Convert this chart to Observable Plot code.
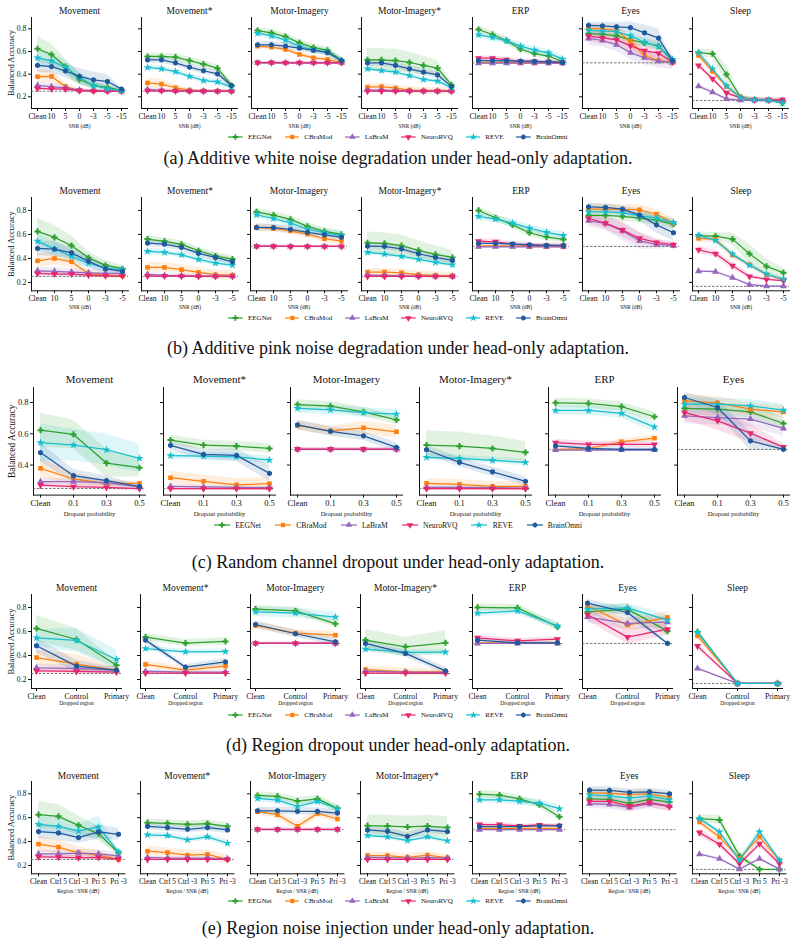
<!DOCTYPE html>
<html><head><meta charset="utf-8">
<script src="https://cdn.jsdelivr.net/npm/d3@7"></script>
<script src="https://cdn.jsdelivr.net/npm/@observablehq/plot@0.6"></script>
<style>
body{margin:0;background:#fff;}
#fig{position:relative;width:796px;height:949px;overflow:hidden;font-family:"Liberation Serif","Times New Roman",serif;color:#111;}
.panel{position:absolute;}
.legend{position:absolute;left:0;width:796px;display:flex;justify-content:center;align-items:center;}
.legend .item{display:flex;align-items:center;}
.caption{position:absolute;left:0;width:796px;text-align:center;line-height:1;}
</style></head>
<body><div id="fig"></div>
<script>
// ---------- categories / labels ----------
const models = ["EEGNet","CBraMod","LaBraM","NeuroRVQ","REVE","BrainOmni"];
const modelColors = ["#2ca02c","#ff7f0e","#9467bd","#e6266f","#17becf","#1f5a9e"];
const panels = ["Movement","Movement*","Motor-Imagery","Motor-Imagery*","ERP","Eyes","Sleep"];
const chanceLevels = [0.25,0.25,0.5,0.25,0.5,0.5,0.167];
const yTicksMain = [0.2,0.4,0.6,0.8];
const yTicksDropout = [0.4,0.6,0.8];
const xTicksWhite = ["Clean","10","5","0","-3","-5","-15"];
const xTicksPink = ["Clean","10","5","0","-3","-5"];
const xTicksDropout = ["Clean","0.1","0.3","0.5"];
const xTicksRegion = ["Clean","Control","Primary"];
const xTicksInjection = ["Clean","Ctrl 5","Ctrl -3","Pri 5","Pri -3"];

// ---------- (a) white noise: rows in model order ----------
const whiteMovement = [
 [0.624,0.573,0.467,0.353,0.30,0.283,0.256],
 [0.378,0.38,0.29,0.253,0.252,0.25,0.25],
 [0.30,0.29,0.28,0.26,0.255,0.252,0.25],
 [0.274,0.27,0.268,0.255,0.25,0.25,0.25],
 [0.543,0.517,0.46,0.37,0.30,0.27,0.255],
 [0.478,0.467,0.428,0.38,0.35,0.335,0.268]];
const whiteMovementSd = [[0.11,0.09,0.07,0.05,0.03,0.02,0.01],[0.06,0.05,0.03,0.01,0.01,0.01,0.01],[0.03,0.03,0.02,0.01,0.01,0.01,0.01],0.015,[0.07,0.07,0.06,0.05,0.04,0.03,0.01],[0.06,0.06,0.06,0.07,0.07,0.06,0.01]];
const whiteMovementStar = [
 [0.556,0.556,0.55,0.52,0.488,0.453,0.30],
 [0.323,0.312,0.28,0.26,0.253,0.25,0.25],
 [0.265,0.256,0.252,0.25,0.25,0.25,0.25],
 [0.253,0.253,0.252,0.25,0.25,0.25,0.25],
 [0.459,0.447,0.423,0.38,0.344,0.332,0.285],
 [0.526,0.526,0.50,0.462,0.43,0.403,0.30]];
const whiteMovementStarSd = [0.03,[0.04,0.04,0.03,0.01,0.01,0.01,0.01],0.015,0.01,0.025,0.03];
const whiteMI = [
 [0.785,0.765,0.732,0.676,0.635,0.61,0.52],
 [0.647,0.638,0.618,0.574,0.544,0.53,0.503],
 [0.5,0.5,0.5,0.5,0.5,0.5,0.5],
 [0.502,0.502,0.5,0.5,0.5,0.5,0.5],
 [0.76,0.738,0.70,0.644,0.615,0.594,0.52],
 [0.659,0.659,0.647,0.63,0.61,0.59,0.52]];
const whiteMISd = [0.03,0.02,0.01,0.01,0.03,0.03];
const whiteMIStar = [
 [0.526,0.526,0.52,0.503,0.477,0.453,0.306],
 [0.285,0.29,0.277,0.259,0.253,0.252,0.252],
 [0.26,0.26,0.255,0.252,0.25,0.25,0.25],
 [0.25,0.25,0.25,0.25,0.25,0.25,0.25],
 [0.447,0.432,0.418,0.388,0.353,0.338,0.28],
 [0.50,0.50,0.477,0.447,0.418,0.394,0.29]];
const whiteMIStarSd = [[0.1,0.1,0.1,0.09,0.08,0.07,0.02],0.03,0.01,0.01,0.02,0.03];
const whiteERP = [
 [0.794,0.75,0.697,0.62,0.582,0.56,0.512],
 [0.505,0.505,0.503,0.502,0.5,0.5,0.5],
 [0.497,0.497,0.497,0.497,0.497,0.497,0.497],
 [0.541,0.541,0.526,0.512,0.512,0.509,0.503],
 [0.747,0.724,0.694,0.647,0.612,0.588,0.532],
 [0.52,0.52,0.517,0.515,0.512,0.509,0.503]];
const whiteERPSd = [0.03,0.01,0.01,0.02,0.03,0.01];
const whiteEyes = [
 [0.756,0.753,0.738,0.703,0.676,0.65,0.515],
 [0.803,0.80,0.785,0.69,0.565,0.52,0.506],
 [0.715,0.697,0.66,0.59,0.544,0.515,0.503],
 [0.735,0.72,0.703,0.65,0.606,0.585,0.506],
 [0.788,0.78,0.776,0.74,0.68,0.644,0.53],
 [0.83,0.826,0.818,0.81,0.765,0.718,0.52]];
const whiteEyesSd = [0.04,[0.04,0.04,0.04,0.05,0.05,0.03,0.01],0.06,0.05,0.03,[0.03,0.03,0.04,0.05,0.07,0.08,0.02]];
const whiteSleep = [
 [0.59,0.58,0.397,0.197,0.173,0.17,0.147],
 [0.565,0.424,0.29,0.197,0.173,0.17,0.16],
 [0.294,0.24,0.182,0.17,0.173,0.17,0.168],
 [0.476,0.36,0.235,0.19,0.173,0.173,0.173],
 [0.588,0.447,0.297,0.19,0.173,0.17,0.144],
 null];
const whiteSleepSd = [[0.03,0.04,0.08,0.02,0.01,0.01,0.01],0.02,0.015,0.02,0.02,0];

// ---------- (b) pink noise ----------
const pinkMovement = [
 [0.625,0.575,0.508,0.405,0.342,0.314],
 [0.38,0.40,0.372,0.272,0.261,0.255],
 [0.297,0.292,0.286,0.28,0.275,0.275],
 [0.275,0.27,0.27,0.26,0.255,0.253],
 [0.544,0.478,0.417,0.361,0.32,0.303],
 [0.483,0.478,0.447,0.375,0.314,0.292]];
const pinkMovementSd = [[0.11,0.1,0.08,0.05,0.04,0.03],[0.06,0.05,0.05,0.02,0.01,0.01],0.03,0.02,[0.07,0.06,0.05,0.04,0.03,0.02],[0.06,0.06,0.05,0.05,0.04,0.03]];
const pinkMovementStar = [
 [0.561,0.542,0.517,0.464,0.42,0.394],
 [0.325,0.325,0.306,0.283,0.264,0.261],
 [0.267,0.258,0.255,0.253,0.252,0.252],
 [0.253,0.253,0.252,0.25,0.25,0.25],
 [0.458,0.45,0.43,0.392,0.361,0.344],
 [0.528,0.52,0.492,0.442,0.408,0.372]];
const pinkMovementStarSd = [0.03,0.04,0.015,0.01,0.025,0.03];
const pinkMI = [
 [0.789,0.761,0.725,0.667,0.625,0.60],
 [0.656,0.65,0.63,0.603,0.564,0.544],
 [0.5,0.5,0.5,0.5,0.5,0.5],
 [0.502,0.502,0.5,0.5,0.5,0.5],
 [0.764,0.733,0.694,0.644,0.614,0.592],
 [0.658,0.656,0.642,0.617,0.597,0.578]];
const pinkMISd = [0.03,0.03,0.01,0.01,0.03,0.03];
const pinkMIStar = [
 [0.53,0.525,0.506,0.467,0.433,0.408],
 [0.286,0.286,0.28,0.264,0.258,0.255],
 [0.26,0.258,0.255,0.252,0.25,0.25],
 [0.25,0.25,0.25,0.25,0.25,0.25],
 [0.45,0.436,0.417,0.392,0.367,0.347],
 [0.503,0.50,0.48,0.439,0.408,0.383]];
const pinkMIStarSd = [[0.09,0.09,0.09,0.08,0.07,0.06],0.03,0.01,0.01,0.02,0.03];
const pinkERP = [
 [0.80,0.739,0.68,0.614,0.578,0.558],
 [0.505,0.505,0.503,0.502,0.5,0.5],
 [0.497,0.497,0.497,0.497,0.497,0.497],
 [0.544,0.539,0.52,0.508,0.508,0.506],
 [0.75,0.728,0.694,0.653,0.617,0.592],
 [0.525,0.525,0.52,0.514,0.508,0.508]];
const pinkERPSd = [0.03,0.01,0.01,0.02,0.03,0.01];
const pinkEyes = [
 [0.758,0.758,0.75,0.736,0.72,0.686],
 [0.811,0.811,0.808,0.806,0.769,0.692],
 [0.714,0.692,0.63,0.547,0.517,0.506],
 [0.733,0.694,0.636,0.567,0.533,0.514],
 [0.789,0.789,0.78,0.756,0.736,0.70],
 [0.83,0.825,0.811,0.761,0.68,0.614]];
const pinkEyesSd = [0.04,0.04,[0.05,0.06,0.08,0.07,0.04,0.02],[0.04,0.05,0.06,0.05,0.03,0.02],0.03,[0.03,0.03,0.03,0.05,0.07,0.07]];
const pinkSleep = [
 [0.589,0.586,0.561,0.439,0.333,0.281],
 [0.567,0.558,0.428,0.347,0.264,0.222],
 [0.294,0.289,0.239,0.181,0.169,0.169],
 [0.472,0.439,0.339,0.25,0.225,0.214],
 [0.592,0.55,0.436,0.344,0.269,0.228],
 null];
const pinkSleepSd = [[0.03,0.03,0.05,0.08,0.06,0.04],[0.03,0.03,0.03,0.02,0.02,0.01],0.01,[0.03,0.03,0.03,0.02,0.01,0.01],0.02,0];

// ---------- (c) channel dropout ----------
const dropMovement = [
 [0.623,0.596,0.413,0.383],
 [0.379,0.311,0.281,0.283],
 [0.294,0.294,0.287,0.262],
 [0.272,0.262,0.257,0.249],
 [0.543,0.528,0.498,0.443],
 [0.48,0.332,0.30,0.262]];
const dropMovementSd = [[0.11,0.09,0.09,0.06],[0.06,0.04,0.02,0.01],0.02,0.015,[0.12,0.1,0.1,0.09],[0.06,0.04,0.03,0.01]];
const dropMovementStar = [
 [0.56,0.528,0.521,0.506],
 [0.319,0.296,0.274,0.281],
 [0.264,0.26,0.258,0.255],
 [0.249,0.249,0.249,0.249],
 [0.46,0.457,0.453,0.432],
 [0.526,0.468,0.462,0.347]];
const dropMovementStarSd = [0.03,0.04,0.01,0.01,0.025,[0.03,0.03,0.04,0.05]];
const dropMI = [
 [0.787,0.777,0.74,0.689],
 [0.653,0.619,0.638,0.613],
 [0.5,0.5,0.5,0.5],
 [0.502,0.502,0.502,0.502],
 [0.762,0.753,0.736,0.726],
 [0.657,0.615,0.587,0.513]];
const dropMISd = [0.03,[0.03,0.03,0.04,0.04],0.01,0.01,0.03,0.03];
const dropMIStar = [
 [0.528,0.521,0.506,0.481],
 [0.283,0.277,0.264,0.264],
 [0.257,0.257,0.255,0.253],
 [0.249,0.249,0.249,0.249],
 [0.449,0.443,0.43,0.417],
 [0.498,0.417,0.357,0.296]];
const dropMIStarSd = [[0.09,0.09,0.08,0.07],0.03,0.01,0.01,0.02,0.03];
const dropERP = [
 [0.798,0.794,0.774,0.709],
 [0.498,0.506,0.549,0.572],
 [0.496,0.496,0.496,0.496],
 [0.543,0.532,0.532,0.532],
 [0.749,0.749,0.73,0.643],
 [0.523,0.506,0.50,0.50]];
const dropERPSd = [0.03,[0.01,0.01,0.02,0.02],0.01,0.02,0.03,0.01];
const dropEyes = [
 [0.762,0.757,0.74,0.666],
 [0.811,0.798,0.757,0.74],
 [0.715,0.704,0.694,0.634],
 [0.736,0.683,0.604,0.515],
 [0.789,0.789,0.779,0.751],
 [0.832,0.768,0.555,0.50]];
const dropEyesSd = [0.04,0.04,0.05,[0.05,0.06,0.06,0.02],0.04,[0.03,0.05,0.06,0.01]];

// ---------- (d) region dropout ----------
const regionMovement = [
 [0.625,0.533,0.319],
 [0.383,0.328,0.278],
 [0.297,0.292,0.275],
 [0.272,0.267,0.261],
 [0.547,0.525,0.367],
 [0.481,0.311,0.278]];
const regionMovementSd = [[0.11,0.09,0.03],[0.06,0.08,0.02],0.03,0.02,[0.07,0.1,0.08],[0.06,0.05,0.02]];
const regionMovementStar = [
 [0.553,0.503,0.517],
 [0.325,0.278,0.311],
 [0.269,0.262,0.262],
 [0.253,0.253,0.253],
 [0.458,0.431,0.433],
 [0.528,0.303,0.347]];
const regionMovementStarSd = [0.03,0.03,0.01,0.01,0.02,[0.03,0.02,0.03]];
const regionMI = [
 [0.786,0.772,0.664],
 [0.65,0.586,0.569],
 [0.5,0.5,0.5],
 [0.502,0.502,0.502],
 [0.764,0.753,0.72],
 [0.658,0.581,0.514]];
const regionMISd = [0.03,0.03,0.01,0.01,0.04,0.03];
const regionMIStar = [
 [0.528,0.472,0.506],
 [0.283,0.264,0.264],
 [0.269,0.262,0.26],
 [0.253,0.253,0.253],
 [0.453,0.425,0.428],
 [0.50,0.417,0.272]];
const regionMIStarSd = [[0.09,0.08,0.1],0.03,0.01,0.01,0.02,0.03];
const regionERP = [
 [0.80,0.797,0.639],
 [0.505,0.505,0.505],
 [0.50,0.50,0.50],
 [0.547,0.522,0.536],
 [0.753,0.772,0.647],
 [0.528,0.506,0.506]];
const regionERPSd = [0.03,0.01,0.01,0.02,0.03,0.01];
const regionEyes = [
 [0.764,0.786,0.603],
 [0.814,0.653,0.717],
 [0.72,0.667,0.678],
 [0.739,0.553,0.619],
 [0.786,0.797,0.694],
 [0.836,0.758,0.50]];
const regionEyesSd = [0.04,[0.04,0.05,0.05],0.05,[0.05,0.06,0.05],[0.03,0.04,0.04],[0.03,0.04,0.01]];
const regionSleep = [
 [0.597,0.167,0.167],
 [0.564,0.167,0.167],
 [0.292,0.167,0.167],
 [0.478,0.167,0.167],
 [0.592,0.167,0.167],
 null];
const regionSleepSd = [[0.03,0,0],[0.03,0,0],[0.01,0,0],[0.03,0,0],[0.02,0,0],0];

// ---------- (e) region noise injection ----------
const injMovement = [
 [0.625,0.611,0.536,0.467,0.306],
 [0.378,0.353,0.306,0.286,0.25],
 [0.297,0.297,0.303,0.297,0.281],
 [0.272,0.269,0.264,0.267,0.253],
 [0.544,0.528,0.489,0.522,0.314],
 [0.483,0.472,0.433,0.481,0.461]];
const injMovementSd = [[0.11,0.1,0.08,0.06,0.02],[0.06,0.06,0.05,0.04,0.01],0.03,0.02,[0.07,0.07,0.06,0.09,0.02],[0.06,0.06,0.05,0.06,0.05]];
const injMovementStar = [
 [0.558,0.553,0.544,0.55,0.528],
 [0.319,0.308,0.286,0.292,0.25],
 [0.267,0.262,0.262,0.262,0.256],
 [0.25,0.25,0.25,0.25,0.25],
 [0.456,0.45,0.414,0.439,0.386],
 [0.528,0.517,0.503,0.517,0.497]];
const injMovementStarSd = [0.03,0.04,0.01,0.01,0.025,0.03];
const injMI = [
 [0.786,0.778,0.739,0.758,0.678],
 [0.65,0.625,0.528,0.636,0.589],
 [0.5,0.5,0.5,0.5,0.5],
 [0.502,0.502,0.502,0.502,0.502],
 [0.761,0.747,0.694,0.736,0.675],
 [0.658,0.658,0.653,0.653,0.639]];
const injMISd = [0.03,[0.03,0.03,0.04,0.03,0.03],0.01,0.01,0.03,0.03];
const injMIStar = [
 [0.533,0.53,0.522,0.53,0.517],
 [0.283,0.283,0.267,0.286,0.264],
 [0.267,0.265,0.262,0.265,0.262],
 [0.25,0.25,0.25,0.25,0.25],
 [0.45,0.439,0.408,0.439,0.406],
 [0.497,0.486,0.444,0.497,0.483]];
const injMIStarSd = [0.09,0.03,0.01,0.01,0.02,0.03];
const injERP = [
 [0.797,0.789,0.758,0.708,0.608],
 [0.51,0.51,0.51,0.51,0.51],
 [0.50,0.50,0.50,0.50,0.50],
 [0.542,0.542,0.531,0.539,0.533],
 [0.75,0.75,0.736,0.722,0.675],
 [0.525,0.525,0.525,0.531,0.531]];
const injERPSd = [0.03,0.01,0.01,0.015,0.03,0.01];
const injEyes = [
 [0.758,0.753,0.719,0.753,0.731],
 [0.808,0.803,0.794,0.80,0.769],
 [0.717,0.711,0.686,0.717,0.697],
 [0.736,0.736,0.697,0.728,0.692],
 [0.792,0.783,0.764,0.783,0.75],
 [0.831,0.828,0.811,0.817,0.80]];
const injEyesSd = [0.035,0.035,0.04,0.04,0.03,0.03];
const injSleep = [
 [0.592,0.581,0.278,0.167,0.167],
 [0.564,0.439,0.258,0.439,0.242],
 [0.294,0.256,0.169,0.256,0.169],
 [0.475,0.378,0.214,0.381,0.214],
 [0.592,0.481,0.244,0.481,0.244],
 null];
const injSleepSd = [[0.03,0.04,0.04,0,0],[0.03,0.03,0.02,0.03,0.02],0.01,[0.03,0.03,0.02,0.03,0.02],[0.02,0.02,0.02,0.03,0.02],0];

// ---------- symbols ----------
const triDown = {draw(ctx, size){ const y = -Math.sqrt(size/(Math.sqrt(3)*3)); const s3 = Math.sqrt(3);
  ctx.moveTo(0,-2*y); ctx.lineTo(-s3*y, y); ctx.lineTo(s3*y, y); ctx.closePath(); }};
const hexagon = {draw(ctx, size){ const r = Math.sqrt(2*size/(3*Math.sqrt(3)));
  for(let k=0;k<6;k++){ const a = Math.PI/3*k + Math.PI/6; const x = r*Math.cos(a), y = r*Math.sin(a); if(k) ctx.lineTo(x,y); else ctx.moveTo(x,y);} ctx.closePath(); }};
const modelSymbols = [d3.symbolCross, d3.symbolSquare, d3.symbolTriangle, triDown, d3.symbolStar, hexagon];

// ---------- layout of each row ----------
const rowSpecs = [
 {xs:xTicksWhite, series:[whiteMovement,whiteMovementStar,whiteMI,whiteMIStar,whiteERP,whiteEyes,whiteSleep],
  sds:[whiteMovementSd,whiteMovementStarSd,whiteMISd,whiteMIStarSd,whiteERPSd,whiteEyesSd,whiteSleepSd],
  axisX:[31,141,251,361,472,582,692], frameTop:17, frameH:91, frameW:96, pad:0.31, yDomain:[0.097,0.9], yTicks:yTicksMain,
  titleDy:7, titleFont:9.5, tickFont:7.8, xLabel:"SNR (dB)", xlabDy:18, xlabFont:5.5, ylabDx:-20, ylabFont:8.5,
  legendY:137, legendFont:7, captionY:158, caption:"(a) Additive white noise degradation under head-only adaptation."},
 {xs:xTicksPink, series:[pinkMovement,pinkMovementStar,pinkMI,pinkMIStar,pinkERP,pinkEyes,pinkSleep],
  sds:[pinkMovementSd,pinkMovementStarSd,pinkMISd,pinkMIStarSd,pinkERPSd,pinkEyesSd,pinkSleepSd],
  axisX:[31,141,250,361,472,582,692], frameTop:196.7, frameH:93.3, frameW:97, pad:0.27, yDomain:[0.13,0.908], yTicks:yTicksMain,
  titleDy:6.5, titleFont:9.5, tickFont:7.8, xLabel:"SNR (dB)", xlabDy:16, xlabFont:5.5, ylabDx:-20, ylabFont:8.5,
  legendY:318, legendFont:7, captionY:348, caption:"(b) Additive pink noise degradation under head-only adaptation."},
 {xs:xTicksDropout, series:[dropMovement,dropMovementStar,dropMI,dropMIStar,dropERP,dropEyes],
  sds:[dropMovementSd,dropMovementStarSd,dropMISd,dropMIStarSd,dropERPSd,dropEyesSd],
  axisX:[33,163,290,419,548,677], frameTop:386.7, frameH:107.6, frameW:112, pad:0.17, yDomain:[0.208,0.896], yTicks:yTicksDropout,
  titleDy:7.7, titleFont:11, tickFont:8.5, xLabel:"Dropout probability", xlabDy:19, xlabFont:6.5, ylabDx:-22, ylabFont:9.5,
  legendY:525, legendFont:7.6, captionY:562, caption:"(c) Random channel dropout under head-only adaptation."},
 {xs:xTicksRegion, series:[regionMovement,regionMovementStar,regionMI,regionMIStar,regionERP,regionEyes,regionSleep],
  sds:[regionMovementSd,regionMovementStarSd,regionMISd,regionMIStarSd,regionERPSd,regionEyesSd,regionSleepSd],
  axisX:[31,140,250,360,472,582,692], frameTop:594.3, frameH:94, frameW:90, pad:0.11, yDomain:[0.125,0.908], yTicks:yTicksMain,
  titleDy:6.3, titleFont:9.5, tickFont:7.8, xLabel:"Dropped region", xlabDy:15, xlabFont:5.5, ylabDx:-20, ylabFont:8.5,
  legendY:715, legendFont:7, captionY:745, caption:"(d) Region dropout under head-only adaptation."},
 {xs:xTicksInjection, series:[injMovement,injMovementStar,injMI,injMIStar,injERP,injEyes,injSleep],
  sds:[injMovementSd,injMovementStarSd,injMISd,injMIStarSd,injERPSd,injEyesSd,injSleepSd],
  axisX:[31,140,250,360,472,582,692], frameTop:781, frameH:92.3, frameW:93.5, pad:0.23, yDomain:[0.13,0.903], yTicks:yTicksMain,
  titleDy:6, titleFont:9.5, tickFont:7.4, xLabel:"Region / SNR (dB)", xlabDy:17, xlabFont:5.5, ylabDx:-20, ylabFont:8.5,
  legendY:901, legendFont:7, captionY:928, caption:"(e) Region noise injection under head-only adaptation."}
];

const fig = document.getElementById("fig");
const MT = 16, MB = 26, MR = 6;

function drawPanel(spec, p){
  const first = p === 0;
  const ml = first ? 30 : 6;
  const series = spec.series[p], sds = spec.sds[p];
  const data = models.map((m, i) => {
    const v = series[i]; if (!v) return null;
    const sd = sds[i];
    return v.map((y, j) => { const s = Array.isArray(sd) ? sd[j] : sd; return {x: spec.xs[j], y, lo: y - s, hi: y + s, model: m}; });
  });
  const marks = [];
  data.forEach((d, i) => { if (d) marks.push(Plot.areaY(d, {x: "x", y1: "lo", y2: "hi", fill: modelColors[i], fillOpacity: 0.14, clip: true})); });
  marks.push(Plot.ruleY([chanceLevels[p]], {stroke: "#555", strokeWidth: 0.8, strokeDasharray: "2.5,1.5"}));
  data.forEach((d, i) => { if (d) {
    marks.push(Plot.line(d, {x: "x", y: "y", stroke: modelColors[i], strokeWidth: 1.25}));
    marks.push(Plot.dot(d, {x: "x", y: "y", fill: modelColors[i], symbol: modelSymbols[i], r: 2.6}));
  }});
  marks.push(Plot.text([panels[p]], {text: d => d, frameAnchor: "top", lineAnchor: "middle", textAnchor: "middle", dy: -spec.titleDy, fontSize: spec.titleFont}));
  marks.push(Plot.text([spec.xLabel], {text: d => d, frameAnchor: "bottom", lineAnchor: "middle", textAnchor: "middle", dy: spec.xlabDy, fontSize: spec.xlabFont}));
  if (first) marks.push(Plot.text(["Balanced Accuracy"], {text: d => d, frameAnchor: "left", textAnchor: "middle", lineAnchor: "middle", dx: spec.ylabDx, rotate: -90, fontSize: spec.ylabFont}));
  const svg = Plot.plot({
    width: ml + spec.frameW + MR, height: MT + spec.frameH + MB,
    marginLeft: ml, marginRight: MR, marginTop: MT, marginBottom: MB,
    style: {background: "none", overflow: "visible", fontFamily: "'Liberation Serif', 'Times New Roman', serif", fontSize: spec.tickFont + "px", color: "#111"},
    x: {type: "point", domain: spec.xs, padding: spec.pad, line: true, tickSize: 3, tickPadding: 2, label: null},
    y: {domain: spec.yDomain, ticks: spec.yTicks, tickSize: 3, tickPadding: 2, line: true, label: null,
        tickFormat: first ? (d => d.toFixed(1)) : (() => "")},
    marks
  });
  const wrap = document.createElement("div");
  wrap.className = "panel";
  wrap.style.left = (spec.axisX[p] - ml) + "px";
  wrap.style.top = (spec.frameTop - MT) + "px";
  wrap.appendChild(svg);
  fig.appendChild(wrap);
}

function drawLegend(spec){
  const f = spec.legendFont;
  const lg = d3.select(fig).append("div").attr("class", "legend")
    .style("top", (spec.legendY - 6) + "px").style("height", "12px")
    .style("font-size", f + "px").style("gap", (f * 1.85) + "px");
  const L = f * 2.1;
  models.forEach((m, i) => {
    const it = lg.append("div").attr("class", "item");
    const s = it.append("svg").attr("width", L).attr("height", 10);
    s.append("line").attr("x1", 0).attr("x2", L).attr("y1", 5).attr("y2", 5).attr("stroke", modelColors[i]).attr("stroke-width", 1.2);
    s.append("path").attr("transform", `translate(${L/2},5)`).attr("d", d3.symbol(modelSymbols[i], 18)()).attr("fill", modelColors[i]);
    it.append("span").style("margin-left", (f * 0.7) + "px").text(m);
  });
}

function drawCaption(spec){
  const fs = 18;
  d3.select(fig).append("div").attr("class", "caption")
    .style("top", (spec.captionY - fs * 0.5) + "px").style("font-size", fs + "px").text(spec.caption);
}

rowSpecs.forEach(spec => {
  spec.series.forEach((_, p) => drawPanel(spec, p));
  drawLegend(spec);
  drawCaption(spec);
});
</script>
</body></html>
